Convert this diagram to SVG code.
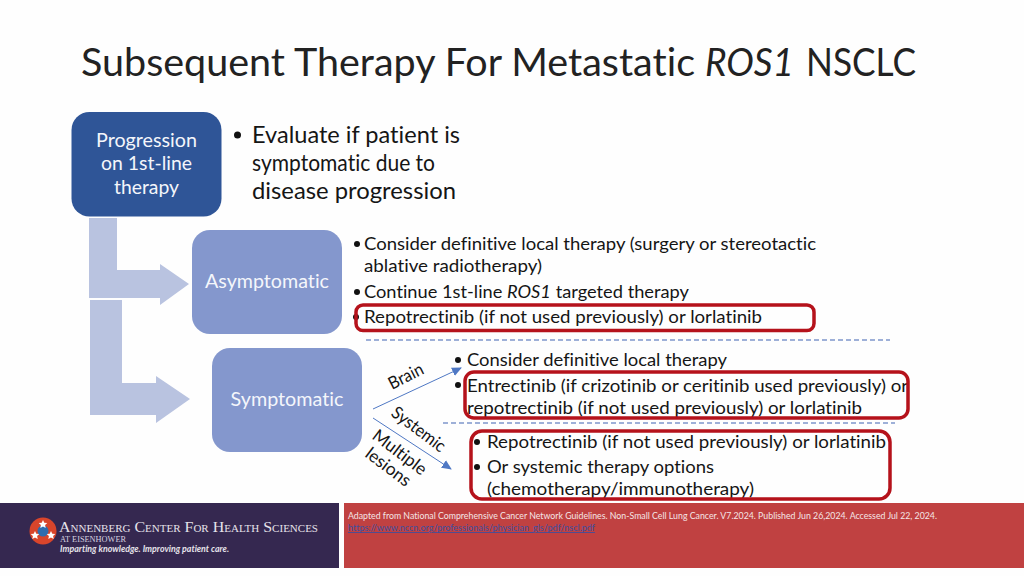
<svg xmlns="http://www.w3.org/2000/svg" width="1024" height="576" viewBox="0 0 1024 576">
<style>
text{font-family:"Lato","Open Sans","Liberation Sans",sans-serif;fill:#151515;font-variant-ligatures:none}
.n{fill:#f4f6fb;font-size:19.500px;text-anchor:middle}
.b{font-size:18px}
.e{font-size:23px}
.ar{fill:#b9c3e0}
.red{fill:none;stroke:#b5121b;stroke-width:3.500}
.dash{stroke:#7f97cc;stroke-width:1.300;stroke-dasharray:5 3;fill:none}
.line{stroke:#4f78c4;stroke-width:1;fill:none;marker-end:url(#a)}
.d{fill:#111}
.l{font-size:17.500px}
.s{fill:#fff}
</style>
<defs>
<marker id="a" markerUnits="userSpaceOnUse" markerWidth="10" markerHeight="10" refX="9" refY="5" orient="auto"><path d="M0 0.500L10 5L0 9.500Z" fill="#4f78c4"/></marker>
</defs>
<rect width="1024" height="576" fill="#fefefe"/>
<text id="title" y="76" font-size="38" style="fill:#222"><tspan x="81" textLength="614" lengthAdjust="spacingAndGlyphs">Subsequent Therapy For Metastatic</tspan> <tspan x="705" font-style="italic" textLength="89" lengthAdjust="spacingAndGlyphs">ROS1</tspan> <tspan x="806" textLength="110" lengthAdjust="spacingAndGlyphs">NSCLC</tspan></text>
<g id="connectors">
<path class="ar" d="M89 218H117V270H160V264L189 284L160 305V298H89Z"/>
<path class="ar" d="M90 300H122V383H156V376L190 399L156 423V415H90Z"/>
<path class="dash" d="M366 340H890"/>
<path class="dash" d="M443 423H895"/>
<path class="line" d="M373 409L461 368"/>
<path class="line" d="M373 418L451 469"/>
</g>
<g id="progression"><rect x="71.500" y="112" width="150" height="104.500" rx="18" fill="#2f5597"/>
<text class="n" x="146.500" y="147" textLength="101" lengthAdjust="spacingAndGlyphs">Progression</text><text class="n" x="146.500" y="170" textLength="91" lengthAdjust="spacingAndGlyphs">on 1st-line</text><text class="n" x="146.500" y="193.500" textLength="65" lengthAdjust="spacingAndGlyphs">therapy</text></g>
<g id="evaluate"><circle class="d" cx="237.500" cy="135" r="3.500"/>
<text class="e" x="252" y="143" textLength="208" lengthAdjust="spacingAndGlyphs">Evaluate if patient is</text><text class="e" x="252" y="171" textLength="183" lengthAdjust="spacingAndGlyphs">symptomatic due to</text><text class="e" x="252" y="199" textLength="204" lengthAdjust="spacingAndGlyphs">disease progression</text></g>
<g id="asymptomatic"><rect x="192" y="230" width="150" height="104" rx="18" fill="#8497cd"/>
<text class="n" x="267" y="288" textLength="124" lengthAdjust="spacingAndGlyphs">Asymptomatic</text></g>
<g id="asym-text"><circle class="d" cx="357" cy="244" r="3"/><circle class="d" cx="357" cy="292" r="3"/><circle class="d" cx="356" cy="317" r="3"/>
<text class="b" x="364" y="250" textLength="452" lengthAdjust="spacingAndGlyphs">Consider definitive local therapy (surgery or stereotactic</text>
<text class="b" x="364" y="272" textLength="178" lengthAdjust="spacingAndGlyphs">ablative radiotherapy)</text>
<text class="b" x="364" y="298" textLength="325" lengthAdjust="spacingAndGlyphs">Continue 1st-line <tspan font-style="italic">ROS1</tspan> targeted therapy</text>
<text class="b" x="364" y="323" textLength="398" lengthAdjust="spacingAndGlyphs">Repotrectinib (if not used previously) or lorlatinib</text>
<rect class="red" x="356" y="305" width="458" height="25.500" rx="7"/></g>
<g id="symptomatic"><rect x="212" y="348" width="150" height="104" rx="18" fill="#8497cd"/>
<text class="n" x="287" y="406" textLength="113" lengthAdjust="spacingAndGlyphs">Symptomatic</text></g>
<g id="sym-labels">
<text class="l" transform="translate(392 390) rotate(-27)" textLength="37" lengthAdjust="spacingAndGlyphs">Brain</text>
<text class="l" transform="translate(390 415) rotate(37)" textLength="63" lengthAdjust="spacingAndGlyphs">Systemic</text>
<text class="l" transform="translate(371 438) rotate(37)" textLength="63" lengthAdjust="spacingAndGlyphs">Multiple</text>
<text class="l" transform="translate(364 456) rotate(37)" textLength="52" lengthAdjust="spacingAndGlyphs">lesions</text>
</g>
<g id="brain-text"><circle class="d" cx="458" cy="360" r="3"/><circle class="d" cx="458" cy="385" r="3"/>
<text class="b" x="467" y="366" textLength="260" lengthAdjust="spacingAndGlyphs">Consider definitive local therapy</text>
<text class="b" x="467" y="392" textLength="441" lengthAdjust="spacingAndGlyphs">Entrectinib (if crizotinib or ceritinib used previously) or</text>
<text class="b" x="467" y="414" textLength="395" lengthAdjust="spacingAndGlyphs">repotrectinib (if not used previously) or lorlatinib</text>
<rect class="red" x="465" y="372" width="443" height="46" rx="9"/></g>
<g id="systemic-text"><circle class="d" cx="477" cy="442" r="3"/><circle class="d" cx="477" cy="467" r="3"/>
<text class="b" x="487" y="448" textLength="399" lengthAdjust="spacingAndGlyphs">Repotrectinib (if not used previously) or lorlatinib</text>
<text class="b" x="487" y="473" textLength="227" lengthAdjust="spacingAndGlyphs">Or systemic therapy options</text>
<text class="b" x="487" y="495" textLength="267" lengthAdjust="spacingAndGlyphs">(chemotherapy/immunotherapy)</text>
<rect class="red" x="471" y="431" width="419" height="68" rx="11"/></g>
<g id="logo"><rect x="0" y="503" width="339" height="65" fill="#352850"/>
<circle cx="43" cy="531" r="13.500" fill="#d9452b"/><circle cx="43" cy="531" r="5.500" fill="#2f6db0"/>
<path class="s" d="M43 520l1.300 2.800 3 .3-2.200 2 .6 3-2.700-1.500-2.700 1.500.6-3-2.200-2 3-.3Z"/>
<path class="s" d="M35 531l1.300 2.800 3 .3-2.200 2 .6 3-2.700-1.500-2.700 1.500.6-3-2.200-2 3-.3Z"/>
<path class="s" d="M51 531l1.300 2.800 3 .3-2.200 2 .6 3-2.700-1.500-2.700 1.500.6-3-2.200-2 3-.3Z"/>
<text x="59" y="532" font-size="14.500" textLength="259" lengthAdjust="spacingAndGlyphs" style="font-family:'Liberation Serif',serif;fill:#e6e3ea;font-variant:small-caps">Annenberg Center For Health Sciences</text>
<text x="60" y="542" font-size="7.500" textLength="66" lengthAdjust="spacingAndGlyphs" style="font-family:'Liberation Serif',serif;fill:#d8d4e0">AT EISENHOWER</text>
<text x="60" y="552" font-size="8.500" font-style="italic" font-weight="700" textLength="169" lengthAdjust="spacingAndGlyphs" style="fill:#e6e3ea">Imparting knowledge. Improving patient care.</text></g>
<g id="footer"><rect x="344" y="503" width="680" height="65" fill="#c04141"/>
<text x="348" y="519" font-size="8.500" textLength="589" lengthAdjust="spacingAndGlyphs" style="fill:#f5e6e6">Adapted from National Comprehensive Cancer Network Guidelines. Non-Small Cell Lung Cancer. V7.2024. Published Jun 26,2024. Accessed Jul 22, 2024.</text>
<text x="348" y="531" font-size="8.500" textLength="247" lengthAdjust="spacingAndGlyphs" text-decoration="underline" style="fill:#3d4f9f">https://www.nccn.org/professionals/physician_gls/pdf/nscl.pdf</text></g>
</svg>
